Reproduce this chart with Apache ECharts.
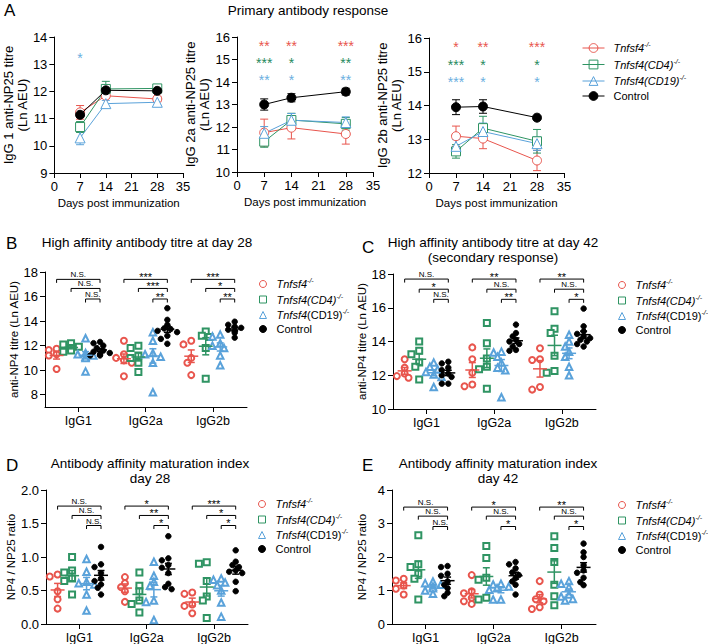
<!DOCTYPE html>
<html><head><meta charset="utf-8">
<script src="https://cdn.jsdelivr.net/npm/echarts@6/dist/echarts.min.js"></script>
<style>html,body{margin:0;padding:0;background:#fff}#c{width:708px;height:644px}</style>
</head><body><div id="c"></div>
<script>
// ================= DATA =================
const groupLabels = ['Tnfsf4-/-', 'Tnfsf4(CD4)-/-', 'Tnfsf4(CD19)-/-', 'Control'];
const days = [7, 14, 28];
const dayTicks = [0, 7, 14, 21, 28, 35];
const isotypes = ['IgG1', 'IgG2a', 'IgG2b'];

// Panel A (mean, SEM at days 7, 14, 28)
const A1_tnf = [11.23, 11.84, 11.72],  A1_tnf_sem = [0.25, 0.10, 0.10];
const A1_cd4 = [10.69, 12.09, 12.11],  A1_cd4_sem = [0.20, 0.28, 0.08];
const A1_cd19 = [10.29, 11.55, 11.60], A1_cd19_sem = [0.25, 0.12, 0.10];
const A1_ctrl = [11.14, 12.04, 12.02], A1_ctrl_sem = [0.08, 0.06, 0.05];
const A1_stars = [['', '', ''], ['', '', ''], ['*', '', '']];
const A1_starRows = [null, null, 13.33];

const A2_tnf = [11.75, 11.97, 11.69],  A2_tnf_sem = [0.60, 0.50, 0.45];
const A2_cd4 = [11.35, 12.31, 12.14],  A2_cd4_sem = [0.25, 0.30, 0.28];
const A2_cd19 = [11.72, 12.30, 12.20], A2_cd19_sem = [0.30, 0.30, 0.25];
const A2_ctrl = [13.00, 13.30, 13.57], A2_ctrl_sem = [0.25, 0.18, 0.15];
const A2_stars = [['**', '**', '***'], ['***', '*', '**'], ['**', '*', '**']];
const A2_starRows = [15.73, 14.98, 14.22];

const A3_tnf = [13.09, 13.02, 12.37],  A3_tnf_sem = [0.30, 0.30, 0.30];
const A3_cd4 = [12.64, 13.33, 12.94],  A3_cd4_sem = [0.20, 0.35, 0.35];
const A3_cd19 = [12.79, 13.23, 12.87], A3_cd19_sem = [0.20, 0.25, 0.20];
const A3_ctrl = [13.95, 13.97, 13.64], A3_ctrl_sem = [0.22, 0.20, 0.04];
const A3_stars = [['*', '**', '***'], ['***', '*', '*'], ['***', '*', '*']];
const A3_starRows = [15.82, 15.29, 14.78];

// Panel B: anti-NP4 titre day 28 (per isotype IgG1, IgG2a, IgG2b)
const B_tnf  = [[11.75, 11.65, 11.3, 11.2, 10.1], [12.4, 11.3, 11.0, 10.8, 10.6, 9.5], [12.4, 12.1, 11.0, 10.6, 9.6]];
const B_cd4  = [[12.2, 12.1, 11.9, 11.8, 11.6, 11.5], [12.0, 11.8, 11.2, 11.0, 10.6, 9.85], [13.15, 12.8, 12.7, 11.8, 9.3]];
const B_cd19 = [[12.6, 11.4, 11.3, 11.2, 11.1, 11.0, 9.9], [13.1, 12.4, 11.4, 11.3, 11.1, 10.6, 8.2], [12.9, 12.75, 12.2, 12.0, 11.8, 11.2, 10.4]];
const B_ctrl = [[12.3, 12.2, 12.0, 11.8, 11.6, 11.5, 11.4, 11.3, 11.2, 11.2], [15.05, 14.1, 13.7, 13.4, 13.35, 13.2, 13.1, 12.8, 12.55, 12.15], [13.95, 13.7, 13.55, 13.45, 13.3, 13.2, 13.05, 12.65]];
const B_sig = [['N.S.', 'N.S.', 'N.S.'], ['***', '***', '**'], ['***', '*', '**']];
const B_sigLevels = [17.4, 16.66, 15.8];

// Panel C: anti-NP4 titre day 42
const C_tnf  = [[12.95, 12.45, 12.1, 11.95, 11.85], [13.65, 12.95, 12.15, 11.45, 11.35], [13.6, 12.95, 12.9, 11.3, 11.15]];
const C_cd4  = [[14.0, 13.45, 13.25, 12.75, 12.5, 11.75], [15.1, 13.9, 13.0, 12.5, 12.35, 11.2], [15.8, 14.75, 14.5, 13.15, 12.25, 12.15]];
const C_cd19 = [[12.75, 12.5, 12.35, 12.2, 12.05, 11.9, 11.3], [13.4, 13.35, 13.1, 12.75, 12.45, 12.3, 10.7], [14.4, 14.0, 13.7, 13.4, 13.1, 12.5, 12.0]];
const C_ctrl = [[12.8, 12.7, 12.45, 12.3, 12.1, 12.0, 11.9, 11.5, 11.5], [15.0, 14.5, 14.3, 14.1, 14.0, 13.85, 13.7, 13.5, 13.45], [15.95, 14.9, 14.6, 14.45, 14.3, 14.2, 14.1, 14.0, 13.85, 13.7]];
const C_sig = [['N.S.', '*', 'N.S.'], ['**', 'N.S.', '**'], ['**', 'N.S.', '*']];
const C_sigLevels = [17.7, 17.1, 16.5];

// Panel D: NP4/NP25 ratio day 28
const D_tnf  = [[0.74, 0.71, 0.49, 0.37, 0.23], [0.70, 0.61, 0.55, 0.49, 0.33], [0.47, 0.45, 0.29, 0.27, 0.16]];
const D_cd4  = [[1.0, 0.8, 0.77, 0.68, 0.64, 0.44], [0.77, 0.57, 0.49, 0.35, 0.30, 0.17], [0.92, 0.90, 0.64, 0.41, 0.35, 0.09]];
const D_cd19 = [[0.97, 0.78, 0.63, 0.61, 0.59, 0.44, 0.20], [0.93, 0.72, 0.63, 0.57, 0.35, 0.33, 0.06], [0.68, 0.66, 0.62, 0.58, 0.50, 0.32, 0.11]];
const D_ctrl = [[1.15, 0.89, 0.85, 0.76, 0.68, 0.64, 0.59, 0.54, 0.44], [1.31, 0.98, 0.95, 0.88, 0.84, 0.76, 0.60, 0.55, 0.52], [1.10, 0.93, 0.88, 0.85, 0.80, 0.78, 0.76, 0.63, 0.49]];
const D_sig = [['N.S.', 'N.S.', 'N.S.'], ['*', '**', '*'], ['***', '*', '*']];
const D_sigLevels = [1.76, 1.62, 1.47];

// Panel E: NP4/NP25 ratio day 42
const E_tnf  = [[1.35, 1.30, 1.15, 1.05, 0.88], [1.46, 0.98, 0.92, 0.78, 0.68, 0.60], [1.28, 0.88, 0.74, 0.68, 0.50, 0.45]];
const E_cd4  = [[2.65, 1.78, 1.70, 1.50, 1.35, 0.73], [2.33, 1.97, 1.38, 1.32, 0.78, 0.73], [2.62, 2.27, 1.85, 1.17, 0.83, 0.56]];
const E_cd19 = [[1.27, 1.22, 1.17, 1.12, 1.07, 1.00, 0.90], [1.20, 1.18, 1.12, 1.07, 1.02, 0.73, 0.73], [1.28, 1.20, 1.10, 0.88, 0.82, 0.75, 0.70]];
const E_ctrl = [[1.73, 1.70, 1.50, 1.44, 1.27, 1.17, 1.07, 0.93, 0.83], [1.85, 1.78, 1.66, 1.54, 1.46, 1.37, 1.27, 1.17, 0.88], [2.40, 2.14, 2.00, 1.75, 1.60, 1.53, 1.38, 1.25, 1.16]];
const E_sig = [['N.S.', 'N.S.', 'N.S.'], ['*', 'N.S.', '*'], ['**', 'N.S.', '*']];
const E_sigLevels = [3.49, 3.22, 2.91];

// ================= STYLE / LAYOUT =================
const FONT = 'Liberation Sans, Arial, sans-serif';
const COLORS = ['#e8554d', '#2f9463', '#5aa2da', '#000000'];
const STAR_COLORS = ['#e8554d', '#1f8a5e', '#6aaee0'];
const LINE_SYMBOLS = ['circle', 'rect', 'triangle', 'circle'];
const DOT_SYMBOLS = ['emptyCircle', 'emptyRect', 'emptyTriangle', 'circle'];
const LEGEND_ICONS = ['circle', 'rect', 'triangle', 'circle'];
const GROUP_GAP = 4.65;   // slot units between isotype groups
const X_MIN = -0.8, X_MAX = 13.15;

const grid = [], xAxis = [], yAxis = [], series = [], legend = [];

const axisLine = {show: true, onZero: false, lineStyle: {color: '#000', width: 1}};
const axisTick = {show: true, length: 5, lineStyle: {color: '#000', width: 1}};
function lab(extra) { return Object.assign({color: '#000', fontFamily: FONT, fontSize: 13, margin: 7}, extra || {}); }

function legendFormatter(allItalic) {
  return function (name) {
    const i = +name.split('_')[1];
    if (i === 0) return '{i|Tnfsf4}{s|-/-}';
    if (i === 1) return '{i|Tnfsf4(CD4)}{s|-/-}';
    if (i === 2) return allItalic ? '{i|Tnfsf4(CD19)}{s|-/-}' : '{i|Tnfsf4}{n|(CD19)}{s|-/-}';
    return '{n|Control}';
  };
}
const legendRich = {
  i: {fontFamily: FONT, fontSize: 11, fontStyle: 'italic', color: '#000', lineHeight: 14},
  n: {fontFamily: FONT, fontSize: 11, color: '#000', lineHeight: 14},
  s: {fontFamily: FONT, fontSize: 7, fontStyle: 'italic', color: '#000', lineHeight: 14, verticalAlign: 'top', padding: [0, 0, 5, 0]}
};
function legendItems(key) {
  return [0, 1, 2, 3].map(g => ({
    name: key + '_' + g, icon: LEGEND_ICONS[g],
    itemStyle: {color: g === 3 ? COLORS[g] : '#fff', borderColor: COLORS[g], borderWidth: 1}
  }));
}

// ---------- Panel A ----------
function addLinePanel(box, yMin, yMax, yName, groups, sems, stars, starRows) {
  const gi = grid.length;
  grid.push(Object.assign({containLabel: false}, box));
  xAxis.push({type: 'value', gridIndex: gi, min: dayTicks[0], max: dayTicks[dayTicks.length - 1], interval: 7,
    axisLine, axisTick, splitLine: {show: false}, axisLabel: lab({margin: 7}),
    name: 'Days post immunization', nameLocation: 'middle', nameGap: 24,
    nameTextStyle: {color: '#000', fontFamily: FONT, fontSize: 11.5}});
  yAxis.push({type: 'value', gridIndex: gi, min: yMin, max: yMax, interval: 1,
    axisLine, axisTick, splitLine: {show: false}, axisLabel: lab({margin: 7}),
    name: yName, nameLocation: 'middle', nameGap: 15, nameRotate: 90,
    nameTextStyle: {color: '#000', fontFamily: FONT, fontSize: 13, lineHeight: 14}});
  groups.forEach((vals, g) => {
    series.push({type: 'custom', name: 'err' + gi + '_' + g, xAxisIndex: gi, yAxisIndex: gi, z: 2, silent: true,
      data: days.map((d, k) => [d, vals[k], sems[g][k]]),
      renderItem: function (params, api) {
        const x = api.value(0), m = api.value(1), s = api.value(2);
        const pt = api.coord([x, m + s]), pb = api.coord([x, m - s]);
        const st = {stroke: COLORS[g], lineWidth: 1, fill: null};
        return {type: 'group', children: [
          {type: 'line', shape: {x1: pt[0], y1: pt[1], x2: pb[0], y2: pb[1]}, style: st},
          {type: 'line', shape: {x1: pt[0] - 4, y1: pt[1], x2: pt[0] + 4, y2: pt[1]}, style: st},
          {type: 'line', shape: {x1: pb[0] - 4, y1: pb[1], x2: pb[0] + 4, y2: pb[1]}, style: st}
        ]};
      }});
    series.push({type: 'line', name: 'A_' + g, xAxisIndex: gi, yAxisIndex: gi, z: 3 + (g === 3 ? 1 : 0),
      data: days.map((d, k) => [d, vals[k]]),
      symbol: LINE_SYMBOLS[g], symbolSize: g === 2 ? 10 : 9, showSymbol: true,
      lineStyle: {color: COLORS[g], width: 1},
      itemStyle: {color: g === 3 ? COLORS[g] : '#fff', borderColor: COLORS[g], borderWidth: 1},
      emphasis: {disabled: true}});
  });
  const starData = [];
  stars.forEach((row, r) => row.forEach((t, k) => { if (t && starRows[r] != null) starData.push([days[k], starRows[r], r, t]); }));
  series.push({type: 'custom', name: 'stars' + gi, xAxisIndex: gi, yAxisIndex: gi, z: 5, silent: true,
    data: starData.map(d => [d[0], d[1], d[2]]),
    renderItem: function (params, api) {
      const p = api.coord([api.value(0), api.value(1)]);
      const r = api.value(2);
      return {type: 'text', x: p[0], y: p[1] + 3,
        style: {text: starData[params.dataIndex][3], fill: STAR_COLORS[r], fontFamily: FONT, fontSize: 14,
          align: 'center', verticalAlign: 'middle'}};
    }});
}

addLinePanel({left: 48, top: 37, width: 135, height: 136}, 9, 14, 'IgG 1 anti-NP25 titre\n(Ln AEU)',
  [A1_tnf, A1_cd4, A1_cd19, A1_ctrl], [A1_tnf_sem, A1_cd4_sem, A1_cd19_sem, A1_ctrl_sem], A1_stars, A1_starRows);
addLinePanel({left: 237, top: 37, width: 136, height: 135}, 10, 16, 'IgG 2a anti-NP25 titre\n(Ln AEU)',
  [A2_tnf, A2_cd4, A2_cd19, A2_ctrl], [A2_tnf_sem, A2_cd4_sem, A2_cd19_sem, A2_ctrl_sem], A2_stars, A2_starRows);
addLinePanel({left: 429, top: 38, width: 135, height: 135}, 12, 16, 'IgG 2b anti-NP25 titre\n(Ln AEU)',
  [A3_tnf, A3_cd4, A3_cd19, A3_ctrl], [A3_tnf_sem, A3_cd4_sem, A3_cd19_sem, A3_ctrl_sem], A3_stars, A3_starRows);

legend.push({left: 577, top: 36, orient: 'vertical', itemWidth: 22, itemHeight: 11, itemGap: 4,
  data: [0, 1, 2, 3].map(g => ({name: 'A_' + g,
    itemStyle: {color: g === 3 ? COLORS[g] : 'rgba(255,255,255,0)', borderColor: COLORS[g], borderWidth: 1}})),
  formatter: legendFormatter(true), selectedMode: false,
  lineStyle: {width: 1},
  textStyle: {rich: legendRich, padding: [0, 0, 0, 4]}});

// ---------- Dot plot panels ----------
function swarmOffsets(vals, pxPerSlot, pxPerUnit, sym) {
  const order = vals.map((v, i) => i).sort((a, b) => vals[b] - vals[a]);
  const placed = [], off = new Array(vals.length).fill(0);
  const cands = [0, -1, 1, -2, 2, -3, 3];
  for (const i of order) {
    for (const c of cands) {
      const dx = c * sym * 0.65;
      let ok = true;
      for (const p of placed) {
        const ddx = dx - p.dx, ddy = (vals[i] - p.v) * pxPerUnit;
        if (ddx * ddx + ddy * ddy < sym * sym * 0.8) { ok = false; break; }
      }
      if (ok) { off[i] = dx / pxPerSlot; placed.push({dx: dx, v: vals[i]}); break; }
    }
  }
  return off;
}
function mean(a) { return a.reduce((s, v) => s + v, 0) / a.length; }
function sem(a) { const m = mean(a); const sd = Math.sqrt(a.reduce((s, v) => s + (v - m) * (v - m), 0) / (a.length - 1)); return sd / Math.sqrt(a.length); }

function addDotPanel(key, box, yMin, yMax, yTicks, yName, nameGap, groups, sig, sigLevels, legendPos, tickFmt) {
  const gi = grid.length;
  grid.push(Object.assign({containLabel: false}, box));
  const centers = isotypes.map((c, k) => k * GROUP_GAP + 1.5);
  xAxis.push({type: 'value', gridIndex: gi, min: X_MIN, max: X_MAX,
    axisLine, splitLine: {show: false},
    axisTick: Object.assign({}, axisTick, {customValues: centers}),
    axisLabel: lab({fontSize: 12.5, margin: 7, customValues: centers,
      formatter: function (v) { let best = 0; centers.forEach((c, k) => { if (Math.abs(c - v) < Math.abs(centers[best] - v)) best = k; }); return isotypes[best]; }})});
  yAxis.push({type: 'value', gridIndex: gi, min: yMin, max: yMax,
    axisLine, splitLine: {show: false},
    axisTick: Object.assign({}, axisTick, {customValues: yTicks}),
    axisLabel: lab({margin: 7, customValues: yTicks, formatter: tickFmt || (v => String(v))}),
    name: yName, nameLocation: 'middle', nameGap: nameGap, nameRotate: 90,
    nameTextStyle: {color: '#000', fontFamily: FONT, fontSize: 11.5}});
  const pxPerSlot = box.width / (X_MAX - X_MIN), pxPerUnit = box.height / (yMax - yMin);
  const stats = [];
  groups.forEach((byIso, g) => {
    const pts = [];
    const sym = g === 3 ? 5 : 6;
    byIso.forEach((vals, k) => {
      const off = swarmOffsets(vals, pxPerSlot, pxPerUnit, sym);
      const x0 = k * GROUP_GAP + g;
      vals.forEach((v, j) => pts.push([x0 + off[j], v]));
      stats.push([x0, mean(vals), sem(vals), g]);
    });
    series.push({type: 'scatter', name: key + '_' + g, xAxisIndex: gi, yAxisIndex: gi, z: 3,
      data: pts, symbol: DOT_SYMBOLS[g], symbolSize: g === 3 ? 5.5 : (g === 2 ? 6.5 : 6),
      itemStyle: {color: COLORS[g], borderColor: COLORS[g], borderWidth: 0.9, opacity: 1},
      emphasis: {disabled: true}});
  });
  series.push({type: 'custom', name: key + 'mean', xAxisIndex: gi, yAxisIndex: gi, z: 4, silent: true,
    data: stats,
    renderItem: function (params, api) {
      const x = api.value(0), m = api.value(1), s = api.value(2), g = api.value(3);
      const p = api.coord([x, m]), pt = api.coord([x, m + s]), pb = api.coord([x, m - s]);
      const st = {stroke: COLORS[g], lineWidth: 1.5, fill: null};
      return {type: 'group', children: [
        {type: 'line', shape: {x1: p[0] - 7, y1: p[1], x2: p[0] + 7, y2: p[1]}, style: st},
        {type: 'line', shape: {x1: p[0], y1: pt[1], x2: p[0], y2: pb[1]}, style: st},
        {type: 'line', shape: {x1: p[0] - 3.5, y1: pt[1], x2: p[0] + 3.5, y2: pt[1]}, style: st},
        {type: 'line', shape: {x1: p[0] - 3.5, y1: pb[1], x2: p[0] + 3.5, y2: pb[1]}, style: st}
      ]};
    }});
  const br = [];
  sig.forEach((row, k) => row.forEach((t, r) => br.push([k * GROUP_GAP + r, k * GROUP_GAP + 3, sigLevels[r], t])));
  series.push({type: 'custom', name: key + 'sig', xAxisIndex: gi, yAxisIndex: gi, z: 5, silent: true,
    encode: {x: [0, 1], y: 2},
    data: br.map(b => [b[0], b[1], b[2]]),
    renderItem: function (params, api) {
      const a = api.coord([api.value(0), api.value(2)]), b = api.coord([api.value(1), api.value(2)]);
      const t = br[params.dataIndex][3];
      const isNS = t === 'N.S.';
      return {type: 'group', children: [
        {type: 'polyline', shape: {points: [[a[0], a[1] + 3.5], [a[0], a[1]], [b[0], b[1]], [b[0], b[1] + 3.5]]},
          style: {stroke: '#000', lineWidth: 1, fill: null}},
        {type: 'text', x: (a[0] + b[0]) / 2, y: isNS ? a[1] - 0.5 : a[1] + 1.5,
          style: {text: t, fill: '#000', fontFamily: FONT, fontSize: isNS ? 8 : 11, lineHeight: isNS ? 8 : 8,
            align: 'center', verticalAlign: 'bottom'}}
      ]};
    }});
  legend.push({left: legendPos[0], top: legendPos[1], orient: 'vertical', itemWidth: 7, itemHeight: 7, itemGap: 3,
    data: legendItems(key), formatter: legendFormatter(false), selectedMode: false,
    textStyle: {rich: legendRich, padding: [0, 0, 0, 5]}});
}

addDotPanel('B', {left: 45, top: 272, width: 202, height: 135}, 7, 18, [8, 10, 12, 14, 16, 18],
  'anti-NP4 titre (Ln AEU)', 24, [B_tnf, B_cd4, B_cd19, B_ctrl], B_sig, B_sigLevels, [254, 272]);
addDotPanel('C', {left: 393, top: 274, width: 203, height: 135}, 10, 18, [10, 12, 14, 16, 18],
  'anti-NP4 titre (Ln AEU)', 22, [C_tnf, C_cd4, C_cd19, C_ctrl], C_sig, C_sigLevels, [613, 273]);
addDotPanel('D', {left: 46, top: 490, width: 202, height: 137}, 0, 2, [0, 0.5, 1, 1.5, 2],
  'NP4 / NP25 ratio', 27, [D_tnf, D_cd4, D_cd19, D_ctrl], D_sig, D_sigLevels, [253, 492], v => v.toFixed(1));
addDotPanel('E', {left: 392, top: 490, width: 204, height: 137}, 0, 4, [0, 1, 2, 3, 4],
  'NP4 / NP25 ratio', 24, [E_tnf, E_cd4, E_cd19, E_ctrl], E_sig, E_sigLevels, [613, 493]);

// ---------- titles ----------
function txt(x, y, s, size, align) {
  return {type: 'text', x: x, y: y, silent: true,
    style: {text: s, fill: '#000', fontFamily: FONT, fontSize: size, align: align || 'center', verticalAlign: 'middle'}};
}
const graphic = [
  txt(4, 10, 'A', 17, 'left'),
  txt(308, 10, 'Primary antibody response', 13.5),
  txt(6, 243, 'B', 17, 'left'),
  txt(147, 242, 'High affinity antibody titre at day 28', 13.5),
  txt(362, 247, 'C', 17, 'left'),
  txt(493, 242, 'High affinity antibody titre at day 42', 13.5),
  txt(493, 257, '(secondary response)', 13.5),
  txt(6, 465, 'D', 17, 'left'),
  txt(150, 463, 'Antibody affinity maturation index', 13.5),
  txt(150, 478, 'day 28', 13.5),
  txt(362, 465, 'E', 17, 'left'),
  txt(498, 463, 'Antibody affinity maturation index', 13.5),
  txt(498, 478, 'day 42', 13.5)
];

const chart = echarts.init(document.getElementById('c'), null, {renderer: 'svg'});
chart.setOption({animation: false, backgroundColor: '#fff', grid, xAxis, yAxis, series, legend, graphic, tooltip: {show: false}});
</script></body></html>
